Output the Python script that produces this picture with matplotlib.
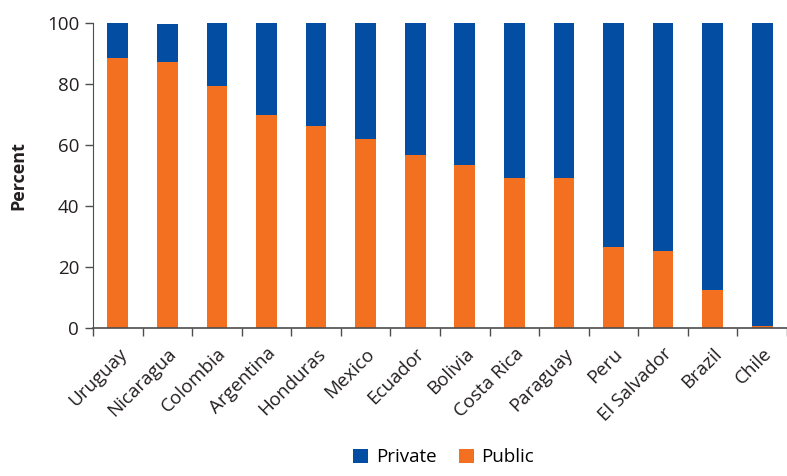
import matplotlib
matplotlib.use('Agg')
import matplotlib.pyplot as plt
import numpy as np

plt.rcParams['font.family'] = ['Open Sans', 'DejaVu Sans']

countries = ['Uruguay', 'Nicaragua', 'Colombia', 'Argentina', 'Honduras', 'Mexico',
             'Ecuador', 'Bolivia', 'Costa Rica', 'Paraguay', 'Peru', 'El Salvador',
             'Brazil', 'Chile']
public = [88.5, 87.2, 79.3, 69.8, 66.2, 62.0, 56.7, 53.4, 49.2, 49.2, 26.6, 25.2, 12.5, 0.7]
private = [11.5, 12.5, 20.7, 30.2, 33.8, 38.0, 43.3, 46.6, 50.8, 50.8, 73.4, 74.8, 87.5, 99.3]

orange = '#F37021'
blue = '#034EA2'
axis_col = '#4d4d4d'
txt_col = '#231f20'

fig = plt.figure(figsize=(7.87, 4.76), dpi=100)
ax = fig.add_axes([93/787, 148/476, 1 - 93/787, 305/476])

x = np.arange(len(countries))
ax.bar(x, public, width=0.42, color=orange, label='Public')
ax.bar(x, private, width=0.42, bottom=public, color=blue, label='Private')

ax.set_ylim(0, 100)
ax.set_xlim(-0.5, 13.38)
ax.set_yticks([0, 20, 40, 60, 80, 100])
ax.tick_params(axis='y', labelsize=13.5, colors=txt_col, length=6, width=1, color=axis_col, pad=4)

# ticks at category boundaries, labels at centers
ax.set_xticks(np.arange(-0.5, 14, 1))
ax.set_xticklabels([])
ax.set_xticks(x, minor=True)
ax.set_xticklabels(countries, minor=True, rotation=45, ha='right', rotation_mode='anchor',
                   fontsize=13.5, color=txt_col)
ax.tick_params(axis='x', which='major', length=6, width=1, color=axis_col)
ax.tick_params(axis='x', which='minor', length=0, pad=12)

for s in ['top', 'right']:
    ax.spines[s].set_visible(False)
ax.spines['left'].set_color(axis_col)
ax.spines['bottom'].set_color(axis_col)
ax.spines['bottom'].set_linewidth(1.2)

ax.set_ylabel('Percent', fontsize=13, fontweight='bold', color=txt_col, labelpad=14)

h, l = ax.get_legend_handles_labels()
fig.legend(h[::-1], l[::-1], loc='lower center', bbox_to_anchor=(0.564, -0.015), ncol=2,
           frameon=False, fontsize=13.5, handlelength=0.8, handleheight=0.8,
           handletextpad=0.4, columnspacing=1.2)

fig.savefig('out.png', dpi=100)
